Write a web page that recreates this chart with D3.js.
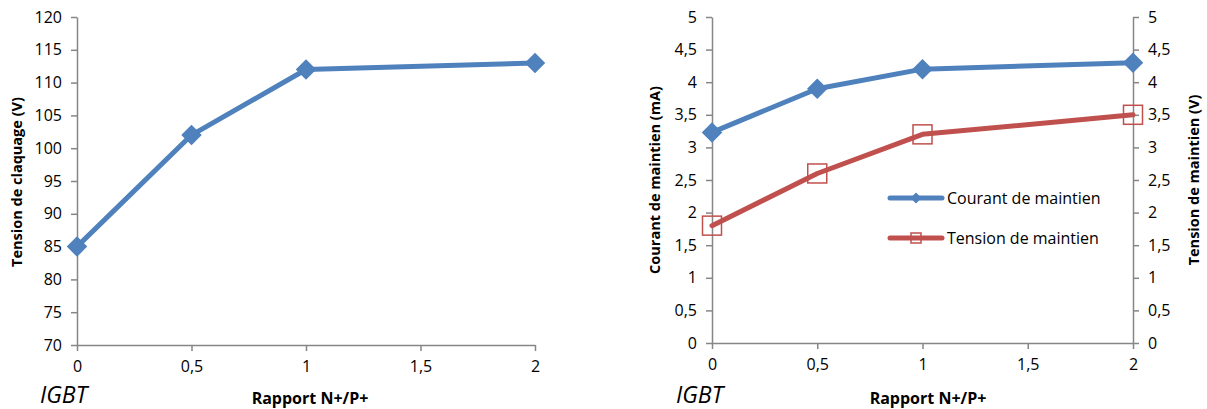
<!DOCTYPE html>
<html><head><meta charset="utf-8">
<script src="https://cdn.jsdelivr.net/npm/d3@7"></script>
<style>body{margin:0;background:#fff}svg{display:block}text{font-family:"Open Sans",sans-serif;fill:#000}</style>
</head><body>
<svg id="c" width="1207" height="409"></svg>
<script>
const ratio = [0, 0.5, 1, 2];
const tensionClaquage = [85, 102, 112, 113];
const courantMaintien = [3.23, 3.9, 4.2, 4.3];
const tensionMaintien = [1.8, 2.6, 3.2, 3.5];
const xTicks = [0, 0.5, 1, 1.5, 2];
const leftYTicks = [70, 75, 80, 85, 90, 95, 100, 105, 110, 115, 120];
const rightYTicks = [0, 0.5, 1, 1.5, 2, 2.5, 3, 3.5, 4, 4.5, 5];
const seriesNames = ["Courant de maintien", "Tension de maintien"];

const BLUE = "#4f81bd", RED = "#c0504d", AXIS = "#868686";
const fmt = d => String(d).replace(".", ",");
const svg = d3.select("#c");

function styleAxis(g){
  g.select(".domain").attr("stroke", AXIS).attr("stroke-width", 1.5);
  g.selectAll(".tick line").attr("stroke", AXIS).attr("stroke-width", 1.5);
  g.selectAll(".tick text").style("font-size", "16px").attr("fill", "#000");
}

function xAxis(x, yPos){
  const g = svg.append("g").attr("transform", `translate(0,${yPos})`)
    .call(d3.axisBottom(x).tickValues(xTicks).tickFormat(fmt).tickSizeInner(6).tickSizeOuter(0).tickPadding(10));
  styleAxis(g);
}

// ---------- Left chart ----------
const x1 = d3.scaleLinear().domain([0, 2]).range([77, 535]);
const y1 = d3.scaleLinear().domain([70, 120]).range([345, 17]);
xAxis(x1, 345);
const gy1 = svg.append("g").attr("transform", "translate(77,0)")
  .call(d3.axisLeft(y1).tickValues(leftYTicks).tickSizeInner(6).tickSizeOuter(0).tickPadding(9));
styleAxis(gy1);

const d1 = ratio.map((r, i) => [r, tensionClaquage[i]]);
svg.append("path").datum(d1).attr("fill", "none").attr("stroke", BLUE).attr("stroke-width", 5)
  .attr("stroke-linejoin", "round").attr("stroke-linecap", "round")
  .attr("d", d3.line().x(d => x1(d[0])).y(d => y1(d[1])));
const diamond = d3.symbol().type(d3.symbolSquare).size(210);
svg.selectAll(".m1").data(d1).join("path")
  .attr("transform", d => `translate(${x1(d[0])},${y1(d[1])}) rotate(45)`)
  .attr("d", diamond).attr("fill", BLUE);

svg.append("text").attr("transform", "translate(22,182) rotate(-90)").attr("text-anchor", "middle")
  .style("font-size", "14.5px").style("font-weight", "bold").text("Tension de claquage (V)");
svg.append("text").attr("x", 40).attr("y", 403).style("font-size", "23px").style("font-style", "italic").text("IGBT");
svg.append("text").attr("x", 310).attr("y", 404).attr("text-anchor", "middle")
  .style("font-size", "16px").style("font-weight", "bold").text("Rapport N+/P+");

// ---------- Right chart ----------
const x2 = d3.scaleLinear().domain([0, 2]).range([712, 1133]);
const y2 = d3.scaleLinear().domain([0, 5]).range([343, 17]);
const y3 = d3.scaleLinear().domain([0, 5]).range([343, 17]);
xAxis(x2, 343);
const gy2 = svg.append("g").attr("transform", "translate(712,0)")
  .call(d3.axisLeft(y2).tickValues(rightYTicks).tickFormat(fmt).tickSizeInner(6).tickSizeOuter(0).tickPadding(9));
styleAxis(gy2);
const gy3 = svg.append("g").attr("transform", "translate(1133,0)")
  .call(d3.axisRight(y3).tickValues(rightYTicks).tickFormat(fmt).tickSizeInner(6).tickSizeOuter(0).tickPadding(9));
styleAxis(gy3);

const dc = ratio.map((r, i) => [r, courantMaintien[i]]);
const dt = ratio.map((r, i) => [r, tensionMaintien[i]]);
svg.append("path").datum(dt).attr("fill", "none").attr("stroke", RED).attr("stroke-width", 5)
  .attr("stroke-linejoin", "round").attr("stroke-linecap", "round")
  .attr("d", d3.line().x(d => x2(d[0])).y(d => y3(d[1])));
svg.selectAll(".m3").data(dt).join("rect")
  .attr("x", d => x2(d[0]) - 9.5).attr("y", d => y3(d[1]) - 9.5).attr("width", 19).attr("height", 19)
  .attr("fill", "none").attr("stroke", RED).attr("stroke-width", 1.5);
svg.append("path").datum(dc).attr("fill", "none").attr("stroke", BLUE).attr("stroke-width", 5)
  .attr("stroke-linejoin", "round").attr("stroke-linecap", "round")
  .attr("d", d3.line().x(d => x2(d[0])).y(d => y2(d[1])));
svg.selectAll(".m2").data(dc).join("path")
  .attr("transform", d => `translate(${x2(d[0])},${y2(d[1])}) rotate(45)`)
  .attr("d", diamond).attr("fill", BLUE);

svg.append("text").attr("transform", "translate(660,180) rotate(-90)").attr("text-anchor", "middle")
  .style("font-size", "14.5px").style("font-weight", "bold").text("Courant de maintien (mA)");
svg.append("text").attr("transform", "translate(1199,180) rotate(-90)").attr("text-anchor", "middle")
  .style("font-size", "14.5px").style("font-weight", "bold").text("Tension de maintien (V)");
svg.append("text").attr("x", 676).attr("y", 403).style("font-size", "23px").style("font-style", "italic").text("IGBT");
svg.append("text").attr("x", 928).attr("y", 404).attr("text-anchor", "middle")
  .style("font-size", "16px").style("font-weight", "bold").text("Rapport N+/P+");

// legend
const legendRows = [{name: seriesNames[0], color: BLUE, y: 198, mark: "diamond"},
                    {name: seriesNames[1], color: RED, y: 238, mark: "square"}];
const lg = svg.append("g");
legendRows.forEach(r => {
  lg.append("line").attr("x1", 890).attr("x2", 942).attr("y1", r.y).attr("y2", r.y)
    .attr("stroke", r.color).attr("stroke-width", 5).attr("stroke-linecap", "round");
  if (r.mark === "diamond") {
    lg.append("path").attr("transform", `translate(916,${r.y}) rotate(45)`)
      .attr("d", d3.symbol().type(d3.symbolSquare).size(60)).attr("fill", r.color);
  } else {
    lg.append("rect").attr("x", 911).attr("y", r.y - 5).attr("width", 10).attr("height", 10)
      .attr("fill", "none").attr("stroke", r.color).attr("stroke-width", 1.5);
  }
  lg.append("text").attr("x", 947).attr("y", r.y + 5.5).style("font-size", "16px").text(r.name);
});
</script>
</body></html>
